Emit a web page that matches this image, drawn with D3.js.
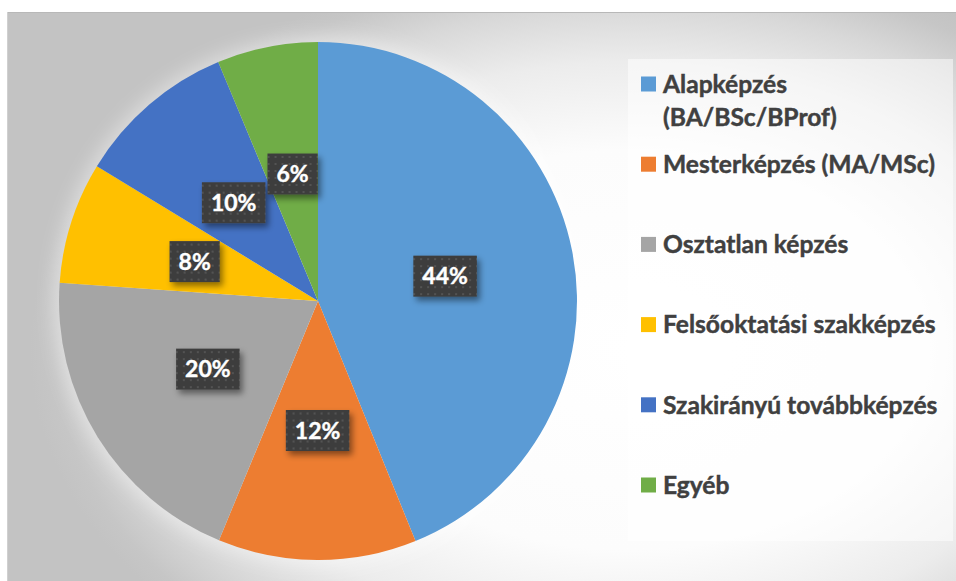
<!DOCTYPE html>
<html>
<head>
<meta charset="utf-8">
<script src="https://cdn.jsdelivr.net/npm/d3@7"></script>
<style>
  html, body { margin: 0; padding: 0; background: #ffffff; }
  svg { display: block; }
</style>
</head>
<body>
<div id="main-diagram"></div>
<script>
// data (shares in percent)
const categories = [
  "Alapképzés (BA/BSc/BProf)",
  "Mesterképzés (MA/MSc)",
  "Osztatlan képzés",
  "Felsőoktatási szakképzés",
  "Szakirányú továbbképzés",
  "Egyéb",
];
const values = [43.9, 12.4, 19.9, 7.6, 10.0, 6.3];
const colours = ["#5B9BD5", "#ED7D31", "#A5A5A5", "#FFC000", "#4472C4", "#70AD47"];

const width = 956;
const height = 581;

// layout of the chart, measured on the reference
const displayConfiguration = {
  displaySelector: "#main-diagram",
  width: width,
  height: height,
  area: { x: 7, y: 12 },
  centre: { x: 318, y: 301 },
  radius: 259,
  legend: { x: 628, y: 59, width: 325, height: 482, firstRow: 84, rowStep: 80.2 },
  fontFamily: "Lato, 'Open Sans', sans-serif",
};

let svg = drawEmptyDiagram(displayConfiguration);
drawPie(svg, displayConfiguration);
drawLegend(svg, displayConfiguration);

/**
 * empty svg with the grey radial background of the chart area
 */
function drawEmptyDiagram(config) {
  const { width, height, area, displaySelector } = config;

  d3.select(displaySelector).select("svg").remove();
  const svg = d3
    .select(displaySelector)
    .append("svg")
    .attr("width", width)
    .attr("height", height);

  const defs = svg.append("defs");

  // elliptic radial gradient, light in the middle, grey in the corners
  const bg = defs
    .append("radialGradient")
    .attr("id", "bg-gradient")
    .attr("gradientUnits", "userSpaceOnUse")
    .attr("cx", 0)
    .attr("cy", 0)
    .attr("r", 1)
    .attr("gradientTransform", "translate(630,350) scale(600,400)");
  [
    [0, "#ffffff"],
    [0.5, "#fcfcfc"],
    [0.72, "#ececec"],
    [0.86, "#d8d8d8"],
    [0.96, "#c6c6c6"],
    [1, "#c3c3c3"],
  ].forEach(function (s) {
    bg.append("stop").attr("offset", s[0]).attr("stop-color", s[1]);
  });

  // soft white glow around the pie
  defs
    .append("filter")
    .attr("id", "glow")
    .attr("x", "-30%")
    .attr("y", "-30%")
    .attr("width", "160%")
    .attr("height", "160%")
    .append("feGaussianBlur")
    .attr("stdDeviation", 9);

  // shadow under the data labels
  defs
    .append("filter")
    .attr("id", "label-shadow")
    .attr("x", "-30%")
    .attr("y", "-30%")
    .attr("width", "160%")
    .attr("height", "170%")
    .append("feDropShadow")
    .attr("dx", 3)
    .attr("dy", 4)
    .attr("stdDeviation", 3)
    .attr("flood-color", "#000000")
    .attr("flood-opacity", 0.45);

  // dotted fill of the data labels
  const pattern = defs
    .append("pattern")
    .attr("id", "dots")
    .attr("patternUnits", "userSpaceOnUse")
    .attr("width", 7)
    .attr("height", 7);
  pattern.append("rect").attr("width", 7).attr("height", 7).attr("fill", "#3e3e3e");
  pattern
    .append("rect")
    .attr("x", 3)
    .attr("y", 3)
    .attr("width", 2)
    .attr("height", 2)
    .attr("fill", "#535353");

  svg
    .append("rect")
    .attr("x", area.x)
    .attr("y", area.y)
    .attr("width", width)
    .attr("height", height)
    .attr("fill", "url(#bg-gradient)");

  // thin edge on top and left
  svg
    .append("line")
    .attr("x1", area.x)
    .attr("x2", width)
    .attr("y1", area.y + 0.5)
    .attr("y2", area.y + 0.5)
    .style("stroke", "#b8b8b8")
    .style("stroke-width", 1);
  svg
    .append("line")
    .attr("x1", area.x + 0.5)
    .attr("x2", area.x + 0.5)
    .attr("y1", area.y)
    .attr("y2", height)
    .style("stroke", "#d0d0d0")
    .style("stroke-width", 1);

  return svg;
}

/**
 * pie slices clockwise from 12 o'clock, with the boxed percentage labels
 */
function drawPie(svg, config) {
  const { centre, radius, fontFamily } = config;

  const dataset = categories.map(function (c, i) {
    return { name: c, value: values[i], colour: colours[i] };
  });
  const total = d3.sum(values);

  const pie = d3
    .pie()
    .sort(null)
    .value(function (d) {
      return d.value;
    });
  const arc = d3.arc().innerRadius(0).outerRadius(radius);

  const g = svg
    .append("g")
    .attr("transform", `translate( ${centre.x} , ${centre.y} )`);

  g.append("circle")
    .attr("r", radius + 6)
    .attr("fill", "#ffffff")
    .attr("fill-opacity", 0.4)
    .attr("filter", "url(#glow)");

  const arcs = pie(dataset);

  g.selectAll("path.slice")
    .data(arcs)
    .enter()
    .append("path")
    .attr("class", "slice")
    .attr("d", arc)
    .attr("fill", function (d) {
      return d.data.colour;
    });

  const format = d3.format(".0%");
  const labels = g
    .selectAll("g.label")
    .data(arcs)
    .enter()
    .append("g")
    .attr("class", "label")
    .attr("transform", function (d) {
      const c = arc.centroid(d);
      return `translate( ${c[0]} , ${c[1]} )`;
    });

  labels
    .append("text")
    .attr("text-anchor", "middle")
    .attr("dy", "0.36em")
    .attr("fill", "#ffffff")
    .attr("stroke", "#ffffff")
    .attr("stroke-width", 0.4)
    .style("font-family", fontFamily)
    .style("font-weight", 700)
    .style("font-size", "23px")
    .text(function (d) {
      return format(d.data.value / total);
    });

  // box behind each label, sized on the text
  labels.each(function () {
    const group = d3.select(this);
    const w = group.select("text").node().getComputedTextLength() + 18;
    const h = 41;
    group
      .insert("rect", "text")
      .attr("x", -w / 2)
      .attr("y", -h / 2)
      .attr("width", w)
      .attr("height", h)
      .attr("fill", "url(#dots)")
      .attr("filter", "url(#label-shadow)");
  });
}

/**
 * legend on the right, one row per category, long names wrapped
 */
function drawLegend(svg, config) {
  const { legend, fontFamily } = config;

  svg
    .append("rect")
    .attr("x", legend.x)
    .attr("y", legend.y)
    .attr("width", legend.width)
    .attr("height", legend.height)
    .attr("fill", "#ffffff")
    .attr("fill-opacity", 0.5);

  const maxTextWidth = 285;
  const lineHeight = 33.5;

  const rows = svg
    .selectAll("g.legend-row")
    .data(categories)
    .enter()
    .append("g")
    .attr("class", "legend-row")
    .attr("transform", function (d, i) {
      return `translate( ${legend.x + 13} , ${legend.firstRow + i * legend.rowStep} )`;
    });

  rows
    .append("rect")
    .attr("x", 0)
    .attr("y", -7.5)
    .attr("width", 15)
    .attr("height", 15)
    .attr("fill", function (d, i) {
      return colours[i];
    });

  rows.each(function (d) {
    const text = d3
      .select(this)
      .append("text")
      .attr("x", 22)
      .attr("fill", "#404040")
      .attr("stroke", "#404040")
      .attr("stroke-width", 0.45)
      .style("font-family", fontFamily)
      .style("font-weight", 700)
      .style("font-size", "24.6px");

    // simple word wrap
    const words = d.split(" ");
    let line = [];
    let lineNo = 0;
    let tspan = text.append("tspan").attr("x", 22).attr("y", 0).attr("dy", "0.36em");
    words.forEach(function (word) {
      line.push(word);
      tspan.text(line.join(" "));
      if (tspan.node().getComputedTextLength() > maxTextWidth && line.length > 1) {
        line.pop();
        tspan.text(line.join(" "));
        line = [word];
        lineNo += 1;
        tspan = text
          .append("tspan")
          .attr("x", 22)
          .attr("y", lineNo * lineHeight)
          .attr("dy", "0.36em")
          .text(word);
      }
    });
  });
}
</script>
</body>
</html>
